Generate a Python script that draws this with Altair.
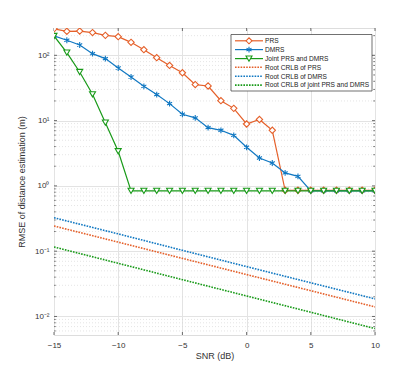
import altair as alt
import pandas as pd

snr = list(range(-15, 11))
prs = [255, 233, 235, 223, 202, 193, 158, 122, 92, 70, 54, 35.6, 33.9, 20.2, 15.4, 8.87,
       10.4, 7.1, 0.857, 0.857, 0.857, 0.857, 0.857, 0.857, 0.857, 0.857]
dmrs = [198, 170, 144, 106, 89, 64, 46.5, 33.5, 25, 18.2, 12.5, 11.0, 7.8, 7.1, 5.95, 3.9,
        2.67, 2.24, 1.58, 1.40, 0.84, 0.84, 0.84, 0.84, 0.84, 0.84]
joint = [198, 110, 55.5, 25.3, 9.3, 3.39, 0.84, 0.84, 0.84, 0.84, 0.84, 0.84, 0.84, 0.84,
         0.84, 0.84, 0.84, 0.84, 0.84, 0.84, 0.84, 0.84, 0.84, 0.84, 0.84, 0.84]

crlb_snr = [-15, -10, -5, 0, 5, 10]
crlb_prs = [0.243, 0.1375, 0.0776, 0.0438, 0.0248, 0.0140]
crlb_dmrs = [0.325, 0.184, 0.103, 0.058, 0.0328, 0.0186]
crlb_joint = [0.116, 0.0652, 0.0366, 0.0206, 0.0116, 0.00652]

x_ticks = [-15, -10, -5, 0, 5, 10]
y_ticks = [0.01, 0.1, 1, 10, 100]
y_minor = [m * 10 ** e for e in range(-3, 3) for m in range(2, 10)]
y_minor = [v for v in y_minor if 0.0052 <= v <= 262]

labels = ["PRS", "DMRS", "Joint PRS and DMRS", "Root CRLB of PRS",
          "Root CRLB of DMRS", "Root CRLB of joint PRS and DMRS"]

ORANGE = "#E5602A"
BLUE = "#1178C2"
GREEN = "#189A18"
FONT = "Liberation Sans"
TITLE_Y = "RMSE of distance estimation (m)"
TITLE_X = "SNR (dB)"

W, H = 321, 307
xs = alt.Scale(domain=[-15, 10], nice=False, zero=False)
ys = alt.Scale(type="log", domain=[0.0052, 262], nice=False)

ASTER = "M0,-1L0,1M-0.87,-0.5L0.87,0.5M-0.87,0.5L0.87,-0.5"

x_axis = alt.Axis(values=x_ticks, grid=True, gridColor="#e3e3e3", ticks=False,
                  domain=False, labelFontSize=8, labelColor="#333333", labelFlush=False,
                  titleFontSize=9, titleFontWeight="normal", titleColor="#333333",
                  labelPadding=6, titlePadding=2, labelFont=FONT, titleFont=FONT)
y_axis = alt.Axis(values=y_ticks, grid=True, gridColor="#e3e3e3", ticks=False,
                  domain=False, labelFontSize=8, labelColor="#333333", labelFlush=False,
                  labelExpr="datum.value >= 100 ? '10²' : datum.value >= 10 ? '10¹' : datum.value >= 1 ? '10⁰' : datum.value >= 0.1 ? '10⁻¹' : '10⁻²'",
                  titleFontSize=9, titleFontWeight="normal", titleColor="#333333",
                  labelPadding=5, titlePadding=8, labelFont=FONT, titleFont=FONT)


def X(field):
    return alt.X(field, scale=xs, title=TITLE_X, axis=x_axis)


def Y(field):
    return alt.Y(field, scale=ys, title=TITLE_Y, axis=y_axis)


base_axes = alt.Chart(pd.DataFrame({"x": [-15], "y": [1]})).mark_point(opacity=0).encode(
    x=X("x:Q"), y=Y("y:Q"))

minor = alt.Chart(pd.DataFrame({"v": y_minor})).mark_rule(
    color="#d4d4d4", strokeDash=[1, 2], strokeWidth=0.6).encode(y=Y("v:Q"))

TC = "#333333"
xt = pd.DataFrame({"t": x_ticks})
yt = pd.DataFrame({"t": y_ticks})
ym = pd.DataFrame({"t": y_minor})
ticks = [
    alt.Chart(xt).mark_rule(color=TC, strokeWidth=0.7).encode(x=X("t:Q"), y=alt.value(H), y2=alt.value(H - 3)),
    alt.Chart(xt).mark_rule(color=TC, strokeWidth=0.7).encode(x=X("t:Q"), y=alt.value(0), y2=alt.value(3)),
    alt.Chart(yt).mark_rule(color=TC, strokeWidth=0.7).encode(y=Y("t:Q"), x=alt.value(0), x2=alt.value(3)),
    alt.Chart(yt).mark_rule(color=TC, strokeWidth=0.7).encode(y=Y("t:Q"), x=alt.value(W), x2=alt.value(W - 3)),
    alt.Chart(ym).mark_rule(color=TC, strokeWidth=0.6).encode(y=Y("t:Q"), x=alt.value(0), x2=alt.value(1.8)),
    alt.Chart(ym).mark_rule(color=TC, strokeWidth=0.6).encode(y=Y("t:Q"), x=alt.value(W), x2=alt.value(W - 1.8)),
]


def series(vals, color, shape, size, sw=1.2):
    df = pd.DataFrame({"snr": snr, "v": vals})
    enc = dict(x=X("snr:Q"), y=Y("v:Q"))
    line = alt.Chart(df).mark_line(color=color, strokeWidth=sw, clip=True).encode(**enc)
    pts = alt.Chart(df).mark_point(shape=shape, filled=False, color=color, size=size,
                                   strokeWidth=1.1, clip=True,
                                   fill="white", opacity=1).encode(**enc)
    return line + pts


def crlb(vals, color):
    df = pd.DataFrame({"snr": crlb_snr, "v": vals})
    return alt.Chart(df).mark_line(color=color, strokeWidth=1.6, strokeDash=[1.6, 1.2],
                                   clip=True).encode(x=X("snr:Q"), y=Y("v:Q"))


layers = [base_axes, minor] + ticks + [
    series(prs, ORANGE, "diamond", 40),
    series(dmrs, BLUE, ASTER, 34, 1.2),
    series(joint, GREEN, "triangle-down", 36),
    crlb(crlb_prs, ORANGE), crlb(crlb_dmrs, BLUE), crlb(crlb_joint, GREEN)]

# legend
one = pd.DataFrame({"a": [0]})
bx0, bx1, by0, by1 = 177, 318, 6.5, 63
layers.append(alt.Chart(one).mark_rect(fill="white", stroke="#333333", strokeWidth=0.7).encode(
    x=alt.value(bx0), x2=alt.value(bx1), y=alt.value(by0), y2=alt.value(by1)))
rows = [12.8, 21.6, 30.6, 39.3, 48.3, 57.1]
styles = [(ORANGE, "diamond", False), (BLUE, ASTER, False), (GREEN, "triangle-down", False),
          (ORANGE, None, True), (BLUE, None, True), (GREEN, None, True)]
for lab, ry, (col, shp, dotted) in zip(labels, rows, styles):
    if dotted:
        layers.append(alt.Chart(one).mark_rule(color=col, strokeWidth=1.6,
                                               strokeDash=[1.6, 1.2]).encode(
            x=alt.value(181), x2=alt.value(209), y=alt.value(ry)))
    else:
        layers.append(alt.Chart(one).mark_rule(color=col, strokeWidth=1.2).encode(
            x=alt.value(181), x2=alt.value(209), y=alt.value(ry)))
        sz = 34 if shp == ASTER else 36
        layers.append(alt.Chart(one).mark_point(shape=shp, color=col, fill="white",
                                                filled=False, size=sz, strokeWidth=1.1,
                                                opacity=1).encode(
            x=alt.value(195), y=alt.value(ry)))
    layers.append(alt.Chart(one).mark_text(align="left", baseline="middle", fontSize=6.6,
                                           font=FONT, color="#222222").encode(
        x=alt.value(211), y=alt.value(ry + 0.3), text=alt.value(lab)))

chart = alt.layer(*layers).properties(
    width=W, height=H, autosize="none",
    padding={"left": 46, "top": 20, "right": 30, "bottom": 30},
).configure_view(stroke="#333333", strokeWidth=0.8).configure(background="white")

chart.save("out.html", embed_options={"renderer": "svg", "actions": False})
